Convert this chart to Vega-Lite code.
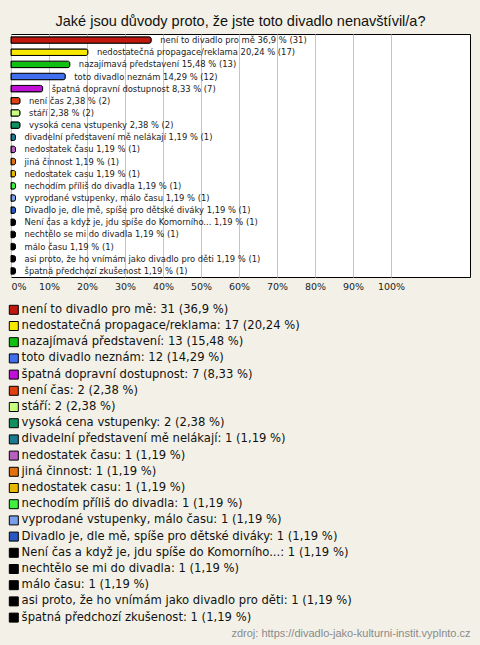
{
  "$schema": "https://vega.github.io/schema/vega-lite/v6.json",
  "autosize": "none",
  "width": 459,
  "height": 243,
  "padding": {"left": 11, "top": 34, "right": 10, "bottom": 368},
  "background": "#f3f1e7",
  "title": {
    "text": "Jaké jsou důvody proto, že jste toto divadlo nenavštívil/a?",
    "font": "Liberation Sans",
    "fontSize": 14.5,
    "fontWeight": "normal",
    "color": "#111111",
    "anchor": "middle",
    "baseline": "alphabetic",
    "offset": -6
  },
  "config": {
    "view": {"fill": "white", "stroke": "#000000", "strokeWidth": 1}
  },
  "data": {
    "values": [
      {"name": "není to divadlo pro mě", "count": 31, "pct": 36.9, "pt": "36,9"},
      {"name": "nedostatečná propagace/reklama", "count": 17, "pct": 20.24, "pt": "20,24"},
      {"name": "nazajímavá představení", "count": 13, "pct": 15.48, "pt": "15,48"},
      {"name": "toto divadlo neznám", "count": 12, "pct": 14.29, "pt": "14,29"},
      {"name": "špatná dopravní dostupnost", "count": 7, "pct": 8.33, "pt": "8,33"},
      {"name": "není čas", "count": 2, "pct": 2.38, "pt": "2,38"},
      {"name": "stáří", "count": 2, "pct": 2.38, "pt": "2,38"},
      {"name": "vysoká cena vstupenky", "count": 2, "pct": 2.38, "pt": "2,38"},
      {"name": "divadelní představení mě nelákají", "count": 1, "pct": 1.19, "pt": "1,19"},
      {"name": "nedostatek času", "count": 1, "pct": 1.19, "pt": "1,19"},
      {"name": "jiná činnost", "count": 1, "pct": 1.19, "pt": "1,19"},
      {"name": "nedostatek casu", "count": 1, "pct": 1.19, "pt": "1,19"},
      {"name": "nechodím příliš do divadla", "count": 1, "pct": 1.19, "pt": "1,19"},
      {"name": "vyprodané vstupenky, málo času", "count": 1, "pct": 1.19, "pt": "1,19"},
      {"name": "Divadlo je, dle mě, spíše pro dětské diváky", "count": 1, "pct": 1.19, "pt": "1,19"},
      {"name": "Není čas a když je, jdu spíše do Komorního...", "count": 1, "pct": 1.19, "pt": "1,19"},
      {"name": "nechtělo se mi do divadla", "count": 1, "pct": 1.19, "pt": "1,19"},
      {"name": "málo času", "count": 1, "pct": 1.19, "pt": "1,19"},
      {"name": "asi proto, že ho vnímám jako divadlo pro děti", "count": 1, "pct": 1.19, "pt": "1,19"},
      {"name": "špatná předchozí zkušenost", "count": 1, "pct": 1.19, "pt": "1,19"}
    ]
  },
  "transform": [
    {"calculate": "datum.name + ' ' + datum.pt + ' % (' + datum.count + ')'", "as": "barLabel"},
    {"calculate": "datum.name + ': ' + datum.count + ' (' + datum.pt + ' %)'", "as": "legendLabel"}
  ],
  "encoding": {
    "y": {
      "field": "name",
      "type": "nominal",
      "sort": null,
      "axis": null,
      "scale": {"paddingInner": 0, "paddingOuter": 0}
    },
    "x": {
      "field": "pct",
      "type": "quantitative",
      "scale": {"domain": [0, 120.8], "nice": false, "zero": true},
      "axis": {
        "values": [0, 10, 20, 30, 40, 50, 60, 70, 80, 90, 100],
        "labelExpr": "datum.value + '%'",
        "labelFont": "DejaVu Sans",
        "labelFontSize": 9.5,
        "labelColor": "#222222",
        "labelPadding": 4,
        "labelFlush": true,
        "ticks": false,
        "domain": false,
        "grid": true,
        "gridColor": "#c4c4c4",
        "gridWidth": 1,
        "title": "zdroj: https://divadlo-jako-kulturni-instit.vyplnto.cz",
        "titleFont": "Liberation Sans",
        "titleFontSize": 11,
        "titleFontWeight": "normal",
        "titleColor": "#8a8a8a",
        "titleAnchor": "end",
        "titleAlign": "right",
        "titlePadding": 337
      }
    }
  },
  "layer": [
    {
      "mark": {"type": "bar", "height": 6.5, "stroke": "#000000", "strokeWidth": 1, "cornerRadiusEnd": 2},
      "encoding": {
        "color": {
          "field": "legendLabel",
          "type": "nominal",
          "sort": null,
          "scale": {
            "range": ["#c0180c", "#f8e800", "#10c010", "#4070f0", "#c010d8", "#e04010", "#c8ff80", "#109060", "#1a7a90", "#b860c0", "#e07010", "#e8b800", "#40f040", "#78a0e8", "#2858c0", "#000000", "#000000", "#000000", "#000000", "#000000"]
          },
          "legend": {
            "title": null,
            "orient": "none",
            "legendX": -3,
            "legendY": 270,
            "direction": "vertical",
            "columns": 1,
            "symbolType": "square",
            "symbolSize": 81,
            "symbolStrokeColor": "#000000",
            "symbolStrokeWidth": 1,
            "symbolOpacity": 1,
            "labelFont": "DejaVu Sans",
            "labelFontSize": 11.6,
            "labelColor": "#111111",
            "labelLimit": 0,
            "labelOffset": 2,
            "rowPadding": 2.2,
            "padding": 0
          }
        }
      }
    },
    {
      "mark": {"type": "text", "align": "left", "baseline": "middle", "dx": 9, "font": "DejaVu Sans", "fontSize": 8.4, "color": "#1a1a1a"},
      "encoding": {
        "text": {"field": "barLabel", "type": "nominal"}
      }
    }
  ]
}
